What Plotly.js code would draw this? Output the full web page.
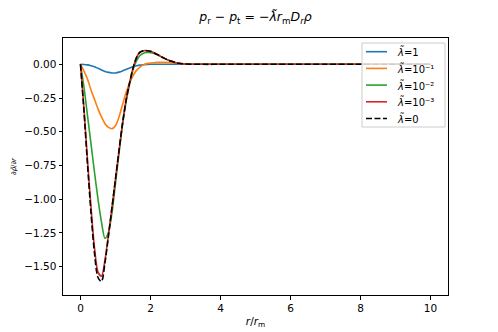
<!DOCTYPE html>
<html>
<head>
<meta charset="utf-8">
<script src="https://cdn.plot.ly/plotly-3.0.1.min.js"></script>
<style>
  html, body { margin: 0; padding: 0; background: #fff; }
  #chart { width: 498px; height: 332px; }
</style>
</head>
<body>
<div id="chart"></div>
<script>
// radius r / r_m, shared by all curves
const radius = [0, 0.1, 0.2, 0.3, 0.4, 0.5, 0.6, 0.7, 0.8, 0.9, 1.0,
  1.1, 1.2, 1.3, 1.4, 1.5, 1.6, 1.7, 1.8, 1.9, 2.0,
  2.1, 2.2, 2.3, 2.4, 2.5, 2.6, 2.7, 2.8, 2.9, 3.0,
  3.5, 4, 5, 6, 7, 8, 9, 10];

const lambda1 = [0, -0.001, -0.004, -0.010, -0.018, -0.030, -0.042, -0.053, -0.060, -0.064, -0.064,
  -0.058, -0.049, -0.038, -0.028, -0.018, -0.011, -0.006, -0.003, -0.001, 0,
  0, 0, 0, 0, 0, 0, 0, 0, 0, 0,
  0, 0, 0, 0, 0, 0, 0, 0];

const lambdaE1 = [0, -0.05, -0.11, -0.19, -0.26, -0.33, -0.39, -0.44, -0.468, -0.477, -0.455,
  -0.39, -0.30, -0.21, -0.14, -0.085, -0.045, -0.02, -0.004, 0.005, 0.010,
  0.012, 0.014, 0.014, 0.014, 0.013, 0.011, 0.009, 0.007, 0.005, 0.004,
  0.001, 0, 0, 0, 0, 0, 0, 0];

const lambdaE2 = [0, -0.17, -0.38, -0.59, -0.80, -1.00, -1.17, -1.29, -1.245, -1.10, -0.88,
  -0.66, -0.45, -0.28, -0.15, -0.04, 0.025, 0.065, 0.082, 0.087, 0.086,
  0.080, 0.070, 0.057, 0.044, 0.032, 0.022, 0.014, 0.008, 0.004, 0.002,
  0, 0, 0, 0, 0, 0, 0, 0];

const lambdaE3 = [0, -0.33, -0.71, -1.06, -1.36, -1.54, -1.57, -1.45, -1.26, -1.06, -0.85,
  -0.64, -0.44, -0.27, -0.14, -0.03, 0.05, 0.09, 0.10, 0.101, 0.097,
  0.086, 0.072, 0.057, 0.044, 0.032, 0.022, 0.014, 0.008, 0.004, 0.002,
  0, 0, 0, 0, 0, 0, 0, 0];

const lambda0 = [0, -0.35, -0.74, -1.10, -1.40, -1.58, -1.61, -1.47, -1.27, -1.06, -0.85,
  -0.64, -0.44, -0.27, -0.14, -0.03, 0.05, 0.09, 0.10, 0.101, 0.097,
  0.086, 0.072, 0.057, 0.044, 0.032, 0.022, 0.014, 0.008, 0.004, 0.002,
  0, 0, 0, 0, 0, 0, 0, 0];

const seriesNames = [
  "<i>λ̃</i>=1",
  "<i>λ̃</i>=10⁻¹",
  "<i>λ̃</i>=10⁻²",
  "<i>λ̃</i>=10⁻³",
  "<i>λ̃</i>=0"
];
const yTicks = [0, -0.25, -0.5, -0.75, -1.0, -1.25, -1.5];
const xTicks = [0, 2, 4, 6, 8, 10];

const colors = ["#1f77b4", "#ff7f0e", "#2ca02c", "#d62728", "#000000"];
const dashes = ["solid", "solid", "solid", "solid", "6px,2.5px"];
const values = [lambda1, lambdaE1, lambdaE2, lambdaE3, lambda0];

const traces = values.map((y, i) => ({
  x: radius,
  y: y,
  name: seriesNames[i],
  type: "scatter",
  mode: "lines",
  line: { color: colors[i], width: 1.6, shape: "spline", smoothing: 0.8, dash: dashes[i] }
}));

// plot box in pixels, used to place the hand-made legend (matplotlib spacing)
const box = { left: 63, right: 448, top: 38, bottom: 295 };
const px = (x) => (x - box.left) / (box.right - box.left);
const py = (y) => (box.bottom - y) / (box.bottom - box.top);

const legendShapes = [{
  type: "rect", xref: "paper", yref: "paper", layer: "above",
  x0: px(362), x1: px(445), y0: py(127), y1: py(43),
  fillcolor: "rgba(255,255,255,0.8)", line: { color: "#cccccc", width: 1 }
}];
const legendNotes = [];
seriesNames.forEach((name, i) => {
  const yc = 51.7 + i * 16.7;
  legendShapes.push({
    type: "line", xref: "paper", yref: "paper", layer: "above",
    x0: px(366), x1: px(387), y0: py(yc), y1: py(yc),
    line: { color: colors[i], width: 1.6, dash: dashes[i] }
  });
  legendNotes.push({
    xref: "paper", yref: "paper", x: px(395), y: py(yc),
    xanchor: "left", yanchor: "middle", showarrow: false,
    text: name, font: { size: 10 }
  });
});

const axisBase = {
  showline: true,
  mirror: true,
  linecolor: "#000",
  linewidth: 1,
  ticks: "outside",
  ticklen: 3.5,
  tickwidth: 1,
  tickcolor: "#000",
  showgrid: false,
  zeroline: false,
  tickfont: { size: 10.5, color: "#000" }
};

const layout = {
  width: 498,
  height: 332,
  paper_bgcolor: "#fff",
  plot_bgcolor: "#fff",
  font: { family: "DejaVu Sans", color: "#000" },
  margin: { l: 63, r: 50, t: 38, b: 37 },
  showlegend: false,
  title: {
    text: "<i>p</i><sub>r</sub> − <i>p</i><sub>t</sub> = −<i>λ̃r</i><sub>m</sub><i>D<sub>r</sub>ρ</i>",
    font: { size: 12.5 },
    x: 0.513,
    xanchor: "center",
    y: 0.95,
    yanchor: "middle"
  },
  xaxis: {
    ...axisBase,
    range: [-0.5, 10.5],
    tickvals: xTicks,
    ticktext: xTicks.map(String),
    title: { text: "<i>r</i>/<i>r</i><sub>m</sub>", font: { size: 10.5 }, standoff: 4 }
  },
  yaxis: {
    ...axisBase,
    range: [-1.71, 0.195],
    tickvals: yTicks,
    ticktext: yTicks.map((v) => (v < 0 ? "−" : "") + Math.abs(v).toFixed(2)),
    title: { text: "∂<i>ρ̃</i>/∂<i>r</i>", font: { size: 7 }, standoff: 6 }
  },
  shapes: legendShapes,
  annotations: legendNotes
};

Plotly.newPlot("chart", traces, layout, { displayModeBar: false, staticPlot: true });
</script>
</body>
</html>
